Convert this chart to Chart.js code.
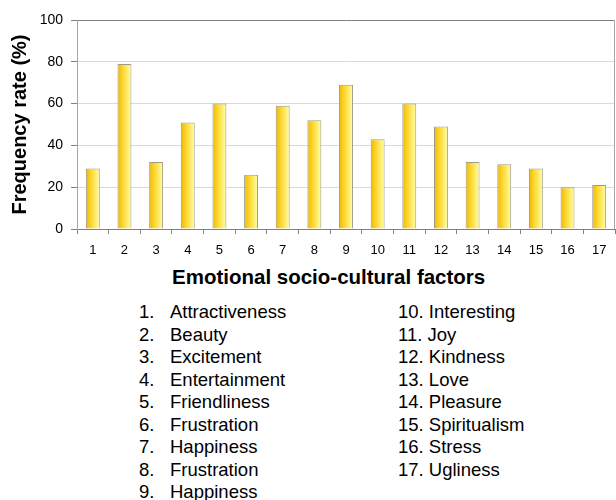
<!DOCTYPE html>
<html>
<head>
<meta charset="utf-8">
<script src="https://cdn.jsdelivr.net/npm/chart.js@4"></script>
<style>
  body { margin: 0; background: #fff; font-family: "Liberation Sans", Arial, sans-serif; color: #000; }
  #wrap { position: absolute; left: 0; top: 0; width: 616px; height: 262px; }
  #xtitle { position: absolute; left: 172px; top: 265px; font-weight: bold; font-size: 20.5px; white-space: nowrap; }
  .row { position: absolute; font-size: 18.5px; line-height: 22.5px; white-space: nowrap; }
</style>
</head>
<body>
<div id="wrap"><canvas id="factorsChart" width="616" height="262"></canvas></div>
<div id="xtitle">Emotional socio-cultural factors</div>
<div id="factor-list"></div>
<script>
/* Emotional socio-cultural factors - frequency bar chart */
const categories = ['1', '2', '3', '4', '5', '6', '7', '8', '9', '10', '11', '12', '13', '14', '15', '16', '17'];
const factorNames = ['Attractiveness', 'Beauty', 'Excitement', 'Entertainment', 'Friendliness', 'Frustration',
  'Happiness', 'Frustration', 'Happiness', 'Interesting', 'Joy', 'Kindness', 'Love', 'Pleasure',
  'Spiritualism', 'Stress', 'Ugliness'];
const frequencyRate = [29, 79, 32, 51, 60, 26, 59, 52, 69, 43, 60, 49, 32, 31, 29, 20, 21];
const yTicks = [0, 20, 40, 60, 80, 100];

// list of factor names under the chart (two columns)
const list = document.getElementById('factor-list');
categories.forEach((num, i) => {
  const top = 301 + (i < 9 ? i : i - 9) * 22.5;
  if (i < 9) {
    list.insertAdjacentHTML('beforeend',
      `<div class="row" style="left:139px;top:${top}px">${num}.</div>` +
      `<div class="row" style="left:170px;top:${top}px">${factorNames[i]}</div>`);
  } else {
    list.insertAdjacentHTML('beforeend',
      `<div class="row" style="left:398px;top:${top}px">${num}. ${factorNames[i]}</div>`);
  }
});

const barPct = 0.44;

// gold -> pale yellow gradient across each bar
function barFill(context) {
  const chart = context.chart;
  const xs = chart.scales.x;
  if (!chart.chartArea || !xs) return '#fcd628';
  const cx = xs.getPixelForValue(context.dataIndex);
  const w = (xs.width / categories.length) * barPct;
  const g = chart.ctx.createLinearGradient(cx - w / 2, 0, cx + w / 2, 0);
  g.addColorStop(0, '#f0b400');
  g.addColorStop(0.35, '#fcd52a');
  g.addColorStop(1, '#ffffa8');
  return g;
}

const plotFrame = {
  id: 'plotFrame',
  beforeDatasetsDraw(chart) {
    const { ctx, chartArea: a } = chart;
    ctx.save();
    ctx.lineWidth = 1;
    ctx.strokeStyle = '#a6a6a6';
    ctx.beginPath();
    ctx.moveTo(a.right - 0.5, a.top);
    ctx.lineTo(a.right - 0.5, a.bottom);
    ctx.stroke();
    ctx.restore();
  }
};

new Chart(document.getElementById('factorsChart').getContext('2d'), {
  type: 'bar',
  data: {
    labels: categories,
    datasets: [{
      data: frequencyRate,
      backgroundColor: barFill,
      borderColor: '#a09a86',
      borderWidth: 1,
      barPercentage: barPct,
      categoryPercentage: 1
    }]
  },
  options: {
    responsive: false,
    animation: false,
    layout: { padding: { top: 20, right: 1, bottom: 0, left: 0 } },
    plugins: {
      legend: { display: false },
      tooltip: { enabled: false }
    },
    scales: {
      x: {
        afterFit: s => { s.height = 33; },
        grid: { offset: true, drawOnChartArea: false, tickLength: 5, color: '#808080' },
        border: { color: '#808080' },
        ticks: { color: '#000', padding: 9, font: { family: 'Liberation Sans', size: 13 } }
      },
      y: {
        min: yTicks[0],
        max: yTicks[yTicks.length - 1],
        afterFit: s => { s.width = 77; },
        afterBuildTicks: s => { s.ticks = yTicks.map(v => ({ value: v })); },
        grid: {
          color: c => (c.tick && c.tick.value === 100 ? '#808080' : '#d9d9d9'),
          tickColor: '#808080',
          tickLength: 6
        },
        border: { color: '#a6a6a6' },
        ticks: { color: '#000', padding: 8, font: { family: 'Liberation Sans', size: 14 } },
        title: {
          display: true,
          text: 'Frequency rate (%)',
          color: '#000',
          font: { family: 'Liberation Sans', size: 20, weight: 'bold' },
          padding: { top: 8, bottom: 0 }
        }
      }
    }
  },
  plugins: [plotFrame]
});
</script>
</body>
</html>
